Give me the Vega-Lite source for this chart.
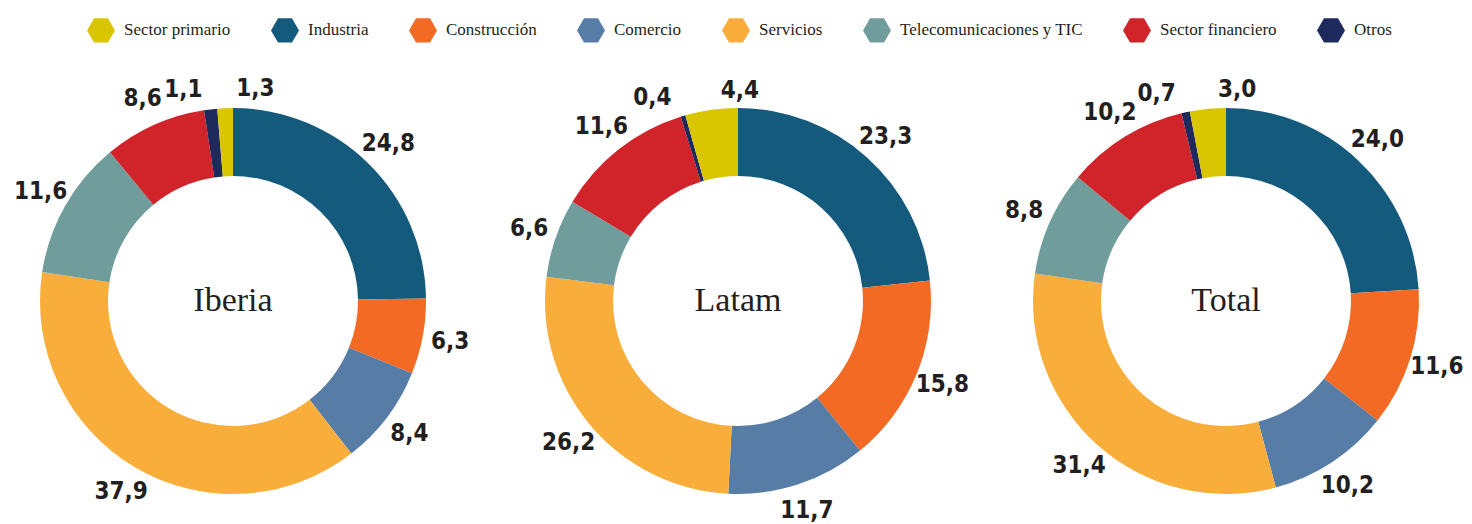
{
  "$schema": "https://vega.github.io/schema/vega-lite/v6.json",
  "padding": 0,
  "bounds": "flush",
  "background": "white",
  "datasets": {
    "shares": [
      {"region": "Iberia", "sector": "Industria", "ord": 1, "value": 24.8},
      {"region": "Iberia", "sector": "Construcción", "ord": 2, "value": 6.3},
      {"region": "Iberia", "sector": "Comercio", "ord": 3, "value": 8.4},
      {"region": "Iberia", "sector": "Servicios", "ord": 4, "value": 37.9},
      {"region": "Iberia", "sector": "Telecomunicaciones y TIC", "ord": 5, "value": 11.6},
      {"region": "Iberia", "sector": "Sector financiero", "ord": 6, "value": 8.6},
      {"region": "Iberia", "sector": "Otros", "ord": 7, "value": 1.1},
      {"region": "Iberia", "sector": "Sector primario", "ord": 8, "value": 1.3},
      {"region": "Latam", "sector": "Industria", "ord": 1, "value": 23.3},
      {"region": "Latam", "sector": "Construcción", "ord": 2, "value": 15.8},
      {"region": "Latam", "sector": "Comercio", "ord": 3, "value": 11.7},
      {"region": "Latam", "sector": "Servicios", "ord": 4, "value": 26.2},
      {"region": "Latam", "sector": "Telecomunicaciones y TIC", "ord": 5, "value": 6.6},
      {"region": "Latam", "sector": "Sector financiero", "ord": 6, "value": 11.6},
      {"region": "Latam", "sector": "Otros", "ord": 7, "value": 0.4},
      {"region": "Latam", "sector": "Sector primario", "ord": 8, "value": 4.4},
      {"region": "Total", "sector": "Industria", "ord": 1, "value": 24.0},
      {"region": "Total", "sector": "Construcción", "ord": 2, "value": 11.6},
      {"region": "Total", "sector": "Comercio", "ord": 3, "value": 10.2},
      {"region": "Total", "sector": "Servicios", "ord": 4, "value": 31.4},
      {"region": "Total", "sector": "Telecomunicaciones y TIC", "ord": 5, "value": 8.8},
      {"region": "Total", "sector": "Sector financiero", "ord": 6, "value": 10.2},
      {"region": "Total", "sector": "Otros", "ord": 7, "value": 0.7},
      {"region": "Total", "sector": "Sector primario", "ord": 8, "value": 3.0}
    ],
    "titles": [
      {"region": "Iberia"},
      {"region": "Latam"},
      {"region": "Total"}
    ]
  },
  "spacing": 0,
  "hconcat": [
    {
      "width": 466,
      "height": 446,
      "layer": [
        {
          "data": {"name": "shares"},
          "transform": [{"filter": "datum.region === 'Iberia'"}],
          "mark": {"type": "arc", "outerRadius": 193, "innerRadius": 125},
          "encoding": {
            "theta": {"field": "value", "type": "quantitative", "stack": true},
            "order": {"field": "ord", "type": "quantitative"},
            "color": {"field": "sector", "type": "nominal", "scale": {"domain": ["Sector primario", "Industria", "Construcción", "Comercio", "Servicios", "Telecomunicaciones y TIC", "Sector financiero", "Otros"]}}
          }
        },
        {
          "data": {"name": "shares"},
          "transform": [{"filter": "datum.region === 'Iberia'"}],
          "mark": {"type": "text", "radius": 221, "font": "DejaVu Sans Condensed", "fontWeight": "bold", "fontSize": 24, "color": "#231f20", "align": "center", "baseline": "middle"},
          "encoding": {
            "theta": {"field": "value", "type": "quantitative", "stack": true},
            "order": {"field": "ord", "type": "quantitative"},
            "text": {"condition": {"test": "datum.ord <= 6", "field": "value", "type": "quantitative", "format": ".1f"}, "value": ""}
          }
        },
        {
          "data": {"name": "shares"},
          "transform": [{"filter": "datum.region === 'Iberia'"}],
          "mark": {"type": "text", "radius": 212, "dx": -6, "font": "DejaVu Sans Condensed", "fontWeight": "bold", "fontSize": 24, "color": "#231f20", "align": "right", "baseline": "middle"},
          "encoding": {
            "theta": {"field": "value", "type": "quantitative", "stack": true},
            "order": {"field": "ord", "type": "quantitative"},
            "text": {"condition": {"test": "datum.ord === 7", "field": "value", "type": "quantitative", "format": ".1f"}, "value": ""}
          }
        },
        {
          "data": {"name": "shares"},
          "transform": [{"filter": "datum.region === 'Iberia'"}],
          "mark": {"type": "text", "radius": 212, "dx": 12, "font": "DejaVu Sans Condensed", "fontWeight": "bold", "fontSize": 24, "color": "#231f20", "align": "left", "baseline": "middle"},
          "encoding": {
            "theta": {"field": "value", "type": "quantitative", "stack": true},
            "order": {"field": "ord", "type": "quantitative"},
            "text": {"condition": {"test": "datum.ord === 8", "field": "value", "type": "quantitative", "format": ".1f"}, "value": ""}
          }
        },
        {
          "data": {"name": "titles"},
          "transform": [{"filter": "datum.region === 'Iberia'"}],
          "mark": {"type": "text", "font": "Liberation Serif", "fontSize": 34, "color": "#231f20", "align": "center", "baseline": "middle"},
          "encoding": {"text": {"field": "region", "type": "nominal"}}
        }
      ]
    },
    {
      "width": 544,
      "height": 446,
      "layer": [
        {
          "data": {"name": "shares"},
          "transform": [{"filter": "datum.region === 'Latam'"}],
          "mark": {"type": "arc", "outerRadius": 193, "innerRadius": 125},
          "encoding": {
            "theta": {"field": "value", "type": "quantitative", "stack": true},
            "order": {"field": "ord", "type": "quantitative"},
            "color": {"field": "sector", "type": "nominal", "scale": {"domain": ["Sector primario", "Industria", "Construcción", "Comercio", "Servicios", "Telecomunicaciones y TIC", "Sector financiero", "Otros"]}}
          }
        },
        {
          "data": {"name": "shares"},
          "transform": [{"filter": "datum.region === 'Latam'"}],
          "mark": {"type": "text", "radius": 221, "font": "DejaVu Sans Condensed", "fontWeight": "bold", "fontSize": 24, "color": "#231f20", "align": "center", "baseline": "middle"},
          "encoding": {
            "theta": {"field": "value", "type": "quantitative", "stack": true},
            "order": {"field": "ord", "type": "quantitative"},
            "text": {"condition": {"test": "datum.ord <= 6", "field": "value", "type": "quantitative", "format": ".1f"}, "value": ""}
          }
        },
        {
          "data": {"name": "shares"},
          "transform": [{"filter": "datum.region === 'Latam'"}],
          "mark": {"type": "text", "radius": 212, "dx": -6, "font": "DejaVu Sans Condensed", "fontWeight": "bold", "fontSize": 24, "color": "#231f20", "align": "right", "baseline": "middle"},
          "encoding": {
            "theta": {"field": "value", "type": "quantitative", "stack": true},
            "order": {"field": "ord", "type": "quantitative"},
            "text": {"condition": {"test": "datum.ord === 7", "field": "value", "type": "quantitative", "format": ".1f"}, "value": ""}
          }
        },
        {
          "data": {"name": "shares"},
          "transform": [{"filter": "datum.region === 'Latam'"}],
          "mark": {"type": "text", "radius": 212, "dx": 12, "font": "DejaVu Sans Condensed", "fontWeight": "bold", "fontSize": 24, "color": "#231f20", "align": "left", "baseline": "middle"},
          "encoding": {
            "theta": {"field": "value", "type": "quantitative", "stack": true},
            "order": {"field": "ord", "type": "quantitative"},
            "text": {"condition": {"test": "datum.ord === 8", "field": "value", "type": "quantitative", "format": ".1f"}, "value": ""}
          }
        },
        {
          "data": {"name": "titles"},
          "transform": [{"filter": "datum.region === 'Latam'"}],
          "mark": {"type": "text", "font": "Liberation Serif", "fontSize": 34, "color": "#231f20", "align": "center", "baseline": "middle"},
          "encoding": {"text": {"field": "region", "type": "nominal"}}
        }
      ]
    },
    {
      "width": 432,
      "height": 446,
      "layer": [
        {
          "data": {"name": "shares"},
          "transform": [{"filter": "datum.region === 'Total'"}],
          "mark": {"type": "arc", "outerRadius": 193, "innerRadius": 125},
          "encoding": {
            "theta": {"field": "value", "type": "quantitative", "stack": true},
            "order": {"field": "ord", "type": "quantitative"},
            "color": {"field": "sector", "type": "nominal", "scale": {"domain": ["Sector primario", "Industria", "Construcción", "Comercio", "Servicios", "Telecomunicaciones y TIC", "Sector financiero", "Otros"]}}
          }
        },
        {
          "data": {"name": "shares"},
          "transform": [{"filter": "datum.region === 'Total'"}],
          "mark": {"type": "text", "radius": 221, "font": "DejaVu Sans Condensed", "fontWeight": "bold", "fontSize": 24, "color": "#231f20", "align": "center", "baseline": "middle"},
          "encoding": {
            "theta": {"field": "value", "type": "quantitative", "stack": true},
            "order": {"field": "ord", "type": "quantitative"},
            "text": {"condition": {"test": "datum.ord <= 6", "field": "value", "type": "quantitative", "format": ".1f"}, "value": ""}
          }
        },
        {
          "data": {"name": "shares"},
          "transform": [{"filter": "datum.region === 'Total'"}],
          "mark": {"type": "text", "radius": 212, "dx": -6, "font": "DejaVu Sans Condensed", "fontWeight": "bold", "fontSize": 24, "color": "#231f20", "align": "right", "baseline": "middle"},
          "encoding": {
            "theta": {"field": "value", "type": "quantitative", "stack": true},
            "order": {"field": "ord", "type": "quantitative"},
            "text": {"condition": {"test": "datum.ord === 7", "field": "value", "type": "quantitative", "format": ".1f"}, "value": ""}
          }
        },
        {
          "data": {"name": "shares"},
          "transform": [{"filter": "datum.region === 'Total'"}],
          "mark": {"type": "text", "radius": 212, "dx": 12, "font": "DejaVu Sans Condensed", "fontWeight": "bold", "fontSize": 24, "color": "#231f20", "align": "left", "baseline": "middle"},
          "encoding": {
            "theta": {"field": "value", "type": "quantitative", "stack": true},
            "order": {"field": "ord", "type": "quantitative"},
            "text": {"condition": {"test": "datum.ord === 8", "field": "value", "type": "quantitative", "format": ".1f"}, "value": ""}
          }
        },
        {
          "data": {"name": "titles"},
          "transform": [{"filter": "datum.region === 'Total'"}],
          "mark": {"type": "text", "font": "Liberation Serif", "fontSize": 34, "color": "#231f20", "align": "center", "baseline": "middle"},
          "encoding": {"text": {"field": "region", "type": "nominal"}}
        }
      ]
    }
  ],
  "resolve": {"scale": {"color": "shared", "theta": "independent"}},
  "config": {
    "locale": {"number": {"decimal": ",", "thousands": ".", "grouping": [3], "currency": ["", " €"]}},
    "view": {"stroke": null},
    "range": {
      "category": ["#d9c500", "#135a7c", "#f26a24", "#577ca5", "#f9ae3b", "#709d9b", "#d1232a", "#1d2a5b"]
    },
    "legend": {
      "orient": "none",
      "legendX": 71,
      "legendY": -78,
      "direction": "horizontal",
      "title": null,
      "padding": 16,
      "symbolType": "M-1,0L-0.5,-0.866L0.5,-0.866L1,0L0.5,0.866L-0.5,0.866Z",
      "symbolSize": 784,
      "symbolStrokeWidth": 0,
      "symbolOpacity": 1,
      "labelFont": "Liberation Serif",
      "labelFontSize": 17,
      "labelColor": "#231f20",
      "labelOffset": 9,
      "labelLimit": 400,
      "columnPadding": 40
    }
  }
}
